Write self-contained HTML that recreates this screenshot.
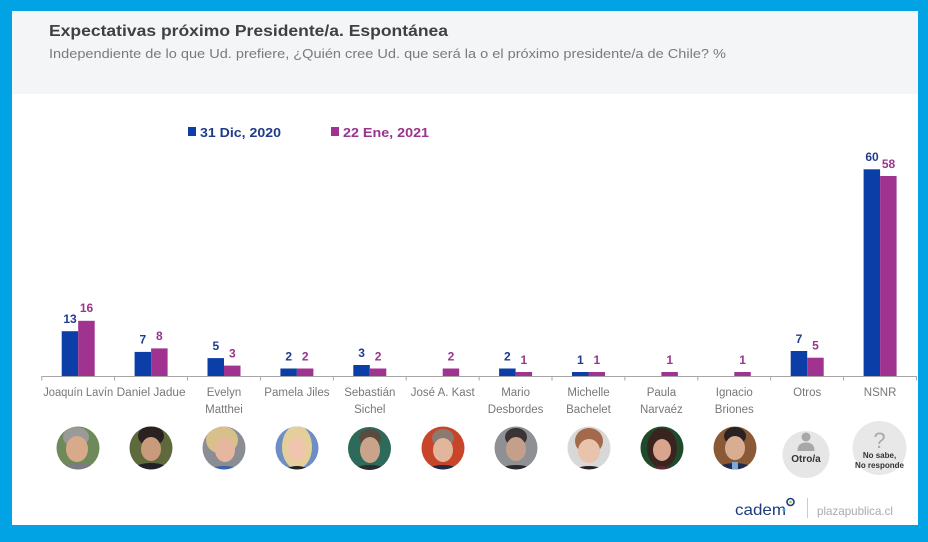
<!DOCTYPE html>
<html><head><meta charset="utf-8"><style>
html,body{margin:0;padding:0;background:#02a3e4;}
svg{display:block;}
text{font-family:"Liberation Sans",sans-serif;}
</style></head><body>
<svg width="928" height="542" viewBox="0 0 928 542" xmlns="http://www.w3.org/2000/svg">
<defs>
<clipPath id="c0"><circle cx="78" cy="448" r="21.5"/></clipPath>
<clipPath id="c1"><circle cx="151" cy="448" r="21.5"/></clipPath>
<clipPath id="c2"><circle cx="224" cy="448" r="21.5"/></clipPath>
<clipPath id="c3"><circle cx="297" cy="448" r="21.5"/></clipPath>
<clipPath id="c4"><circle cx="369.5" cy="448.5" r="21.5"/></clipPath>
<clipPath id="c5"><circle cx="443" cy="448" r="21.5"/></clipPath>
<clipPath id="c6"><circle cx="516" cy="448" r="21.5"/></clipPath>
<clipPath id="c7"><circle cx="589" cy="448" r="21.5"/></clipPath>
<clipPath id="c8"><circle cx="662" cy="448" r="21.5"/></clipPath>
<clipPath id="c9"><circle cx="735" cy="448" r="21.5"/></clipPath>
</defs>
<rect x="0" y="0" width="928" height="542" fill="#02a3e4"/>
<rect x="12" y="11" width="906" height="514" fill="#ffffff"/>
<rect x="12" y="11" width="906" height="83" fill="#f4f5f7"/>

<text x="49" y="36" font-size="16" font-weight="bold" fill="#404040" textLength="399" lengthAdjust="spacingAndGlyphs">Expectativas próximo Presidente/a. Espontánea</text>
<text x="49" y="58" font-size="13" fill="#7a7a7a" textLength="677" lengthAdjust="spacingAndGlyphs">Independiente de lo que Ud. prefiere, ¿Quién cree Ud. que será la o el próximo presidente/a de Chile? %</text>

<!-- legend -->
<rect x="188" y="127" width="8" height="9" fill="#0b3fa7"/>
<text x="200" y="137" font-size="13" font-weight="bold" fill="#1f3b8c" textLength="81" lengthAdjust="spacingAndGlyphs">31 Dic, 2020</text>
<rect x="331" y="127" width="8" height="9" fill="#a0338f"/>
<text x="343" y="137" font-size="13" font-weight="bold" fill="#98358c" textLength="86" lengthAdjust="spacingAndGlyphs">22 Ene, 2021</text>

<g>
<rect x="61.7" y="331.2" width="16.5" height="44.8" fill="#0b3fa7"/>
<rect x="78.2" y="320.8" width="16.5" height="55.2" fill="#a0338f"/>
<rect x="134.6" y="351.9" width="16.5" height="24.1" fill="#0b3fa7"/>
<rect x="151.1" y="348.4" width="16.5" height="27.6" fill="#a0338f"/>
<rect x="207.5" y="358.1" width="16.5" height="17.9" fill="#0b3fa7"/>
<rect x="224" y="365.6" width="16.5" height="10.4" fill="#a0338f"/>
<rect x="280.4" y="368.5" width="16.5" height="7.5" fill="#0b3fa7"/>
<rect x="296.9" y="368.5" width="16.5" height="7.5" fill="#a0338f"/>
<rect x="353.3" y="365" width="16.5" height="11" fill="#0b3fa7"/>
<rect x="369.8" y="368.5" width="16.5" height="7.5" fill="#a0338f"/>
<rect x="442.7" y="368.5" width="16.5" height="7.5" fill="#a0338f"/>
<rect x="499.1" y="368.5" width="16.5" height="7.5" fill="#0b3fa7"/>
<rect x="515.6" y="372" width="16.5" height="4" fill="#a0338f"/>
<rect x="572" y="372" width="16.5" height="4" fill="#0b3fa7"/>
<rect x="588.5" y="372" width="16.5" height="4" fill="#a0338f"/>
<rect x="661.4" y="372" width="16.5" height="4" fill="#a0338f"/>
<rect x="734.3" y="372" width="16.5" height="4" fill="#a0338f"/>
<rect x="790.7" y="351" width="16.5" height="25" fill="#0b3fa7"/>
<rect x="807.2" y="357.7" width="16.5" height="18.3" fill="#a0338f"/>
<rect x="863.6" y="169.3" width="16.5" height="206.7" fill="#0b3fa7"/>
<rect x="880.1" y="176" width="16.5" height="200" fill="#a0338f"/>
</g>

<g font-size="12" font-weight="bold" text-anchor="middle">
<text x="70" y="323" fill="#1f3b8c">13</text>
<text x="86.5" y="312" fill="#98358c">16</text>
<text x="142.9" y="343.5" fill="#1f3b8c">7</text>
<text x="159.4" y="340" fill="#98358c">8</text>
<text x="215.8" y="350" fill="#1f3b8c">5</text>
<text x="232.3" y="357.5" fill="#98358c">3</text>
<text x="288.7" y="360.5" fill="#1f3b8c">2</text>
<text x="305.2" y="360.5" fill="#98358c">2</text>
<text x="361.6" y="357" fill="#1f3b8c">3</text>
<text x="378.1" y="360.5" fill="#98358c">2</text>
<text x="451" y="360.5" fill="#98358c">2</text>
<text x="507.4" y="360.5" fill="#1f3b8c">2</text>
<text x="523.9" y="364" fill="#98358c">1</text>
<text x="580.3" y="364" fill="#1f3b8c">1</text>
<text x="596.8" y="364" fill="#98358c">1</text>
<text x="669.7" y="364" fill="#98358c">1</text>
<text x="742.6" y="364" fill="#98358c">1</text>
<text x="799" y="343" fill="#1f3b8c">7</text>
<text x="815.5" y="349.5" fill="#98358c">5</text>
<text x="872" y="161" fill="#1f3b8c">60</text>
<text x="888.5" y="168" fill="#98358c">58</text>
</g>

<g stroke="#a6a6a6" stroke-width="1">
<line x1="41.7" y1="376.5" x2="916.5" y2="376.5"/>
<line x1="41.7" y1="376" x2="41.7" y2="380.5"/>
<line x1="114.6" y1="376" x2="114.6" y2="380.5"/>
<line x1="187.5" y1="376" x2="187.5" y2="380.5"/>
<line x1="260.4" y1="376" x2="260.4" y2="380.5"/>
<line x1="333.3" y1="376" x2="333.3" y2="380.5"/>
<line x1="406.2" y1="376" x2="406.2" y2="380.5"/>
<line x1="479.1" y1="376" x2="479.1" y2="380.5"/>
<line x1="552" y1="376" x2="552" y2="380.5"/>
<line x1="624.9" y1="376" x2="624.9" y2="380.5"/>
<line x1="697.8" y1="376" x2="697.8" y2="380.5"/>
<line x1="770.7" y1="376" x2="770.7" y2="380.5"/>
<line x1="843.6" y1="376" x2="843.6" y2="380.5"/>
<line x1="916.5" y1="376" x2="916.5" y2="380.5"/>
</g>

<g font-size="11.5" fill="#777777" text-anchor="middle">
<text x="78.2" y="396" textLength="70" lengthAdjust="spacingAndGlyphs">Joaquín Lavín</text>
<text x="151.1" y="396" textLength="69" lengthAdjust="spacingAndGlyphs">Daniel Jadue</text>
<text x="224" y="396">Evelyn</text>
<text x="224" y="413">Matthei</text>
<text x="296.9" y="396">Pamela Jiles</text>
<text x="369.8" y="396">Sebastián</text>
<text x="369.8" y="413">Sichel</text>
<text x="442.7" y="396">José A. Kast</text>
<text x="515.6" y="396">Mario</text>
<text x="515.6" y="413">Desbordes</text>
<text x="588.5" y="396">Michelle</text>
<text x="588.5" y="413">Bachelet</text>
<text x="661.4" y="396">Paula</text>
<text x="661.4" y="413">Narvaéz</text>
<text x="734.3" y="396">Ignacio</text>
<text x="734.3" y="413">Briones</text>
<text x="807.2" y="396">Otros</text>
<text x="880.1" y="396">NSNR</text>
</g>

<g clip-path="url(#c0)">
<rect x="50" y="420" width="60" height="60" fill="#6f8a5a"/>
<ellipse cx="76" cy="437" rx="13" ry="10" fill="#9a9a98"/>
<ellipse cx="77" cy="449" rx="11" ry="13" fill="#d9a98c"/>
<ellipse cx="78" cy="472" rx="20" ry="9" fill="#7a7c80"/>
</g>
<g clip-path="url(#c1)">
<rect x="125" y="420" width="60" height="60" fill="#5e6a3c"/>
<ellipse cx="151" cy="436" rx="13" ry="10" fill="#2a2220"/>
<ellipse cx="151" cy="449" rx="10" ry="12" fill="#c99a7c"/>
<ellipse cx="151" cy="472" rx="20" ry="9" fill="#222226"/>
</g>
<g clip-path="url(#c2)">
<rect x="198" y="420" width="60" height="60" fill="#8a8d94"/>
<ellipse cx="222" cy="440" rx="16" ry="14" fill="#d8c08a"/>
<ellipse cx="225" cy="450" rx="10" ry="12" fill="#e6b79e"/>
<ellipse cx="224" cy="474" rx="20" ry="8" fill="#3b64a8"/>
</g>
<g clip-path="url(#c3)">
<rect x="271" y="420" width="60" height="60" fill="#6f8fc4"/>
<ellipse cx="297" cy="447" rx="15" ry="22" fill="#e4cf9a"/>
<ellipse cx="297" cy="449" rx="9" ry="12" fill="#efc6ad"/>
<ellipse cx="297" cy="474" rx="14" ry="8" fill="#222"/>
</g>
<g clip-path="url(#c4)">
<rect x="344" y="420" width="60" height="60" fill="#2e6a5a"/>
<ellipse cx="370" cy="438" rx="11" ry="9" fill="#5b4b3e"/>
<ellipse cx="370" cy="450" rx="10" ry="13" fill="#c9a48a"/>
<ellipse cx="370" cy="474" rx="20" ry="9" fill="#2a2d30"/>
</g>
<g clip-path="url(#c5)">
<rect x="417" y="420" width="60" height="60" fill="#c9452a"/>
<ellipse cx="443" cy="438" rx="11" ry="9" fill="#8a7a70"/>
<ellipse cx="443" cy="450" rx="10" ry="12" fill="#e1b69c"/>
<ellipse cx="443" cy="474" rx="20" ry="9" fill="#1f2a44"/>
</g>
<g clip-path="url(#c6)">
<rect x="490" y="420" width="60" height="60" fill="#8e9094"/>
<ellipse cx="516" cy="437" rx="11" ry="9" fill="#3a3436"/>
<ellipse cx="516" cy="449" rx="10" ry="12" fill="#c4a08a"/>
<ellipse cx="516" cy="474" rx="20" ry="9" fill="#2a2a2e"/>
</g>
<g clip-path="url(#c7)">
<rect x="563" y="420" width="60" height="60" fill="#d8d8d8"/>
<ellipse cx="589" cy="441" rx="14" ry="13" fill="#a26a4a"/>
<ellipse cx="589" cy="451" rx="11" ry="12" fill="#eac3ad"/>
<ellipse cx="589" cy="474" rx="18" ry="8" fill="#2a2020"/>
</g>
<g clip-path="url(#c8)">
<rect x="636" y="420" width="60" height="60" fill="#1f4a2c"/>
<ellipse cx="662" cy="448" rx="15" ry="20" fill="#3a2420"/>
<ellipse cx="662" cy="450" rx="9" ry="11" fill="#d9a58e"/>
<ellipse cx="662" cy="474" rx="18" ry="8" fill="#5a2a34"/>
</g>
<g clip-path="url(#c9)">
<rect x="709" y="420" width="60" height="60" fill="#8a5a36"/>
<ellipse cx="735" cy="436" rx="11" ry="9" fill="#2a2222"/>
<ellipse cx="735" cy="448" rx="10" ry="12" fill="#d8ad92"/>
<ellipse cx="735" cy="473" rx="21" ry="10" fill="#1f2c4c"/>
<rect x="732" y="462" width="6" height="12" fill="#7fa6d8"/>
</g>

<circle cx="806" cy="454.5" r="23.5" fill="#e6e6e6"/>
<circle cx="806" cy="437" r="4.5" fill="#a8a8a8"/>
<path d="M797.5 451 Q797.5 442.5 806 442.5 Q814.5 442.5 814.5 451 Z" fill="#a8a8a8"/>
<text x="806" y="462" font-size="10" font-weight="bold" fill="#333" text-anchor="middle">Otro/a</text>

<circle cx="879.5" cy="448" r="27" fill="#e8e8e8"/>
<text x="879.5" y="448" font-size="22" fill="#aaaaaa" text-anchor="middle">?</text>
<text x="879.5" y="458" font-size="8" font-weight="bold" fill="#333" text-anchor="middle">No sabe,</text>
<text x="879.5" y="468" font-size="8" font-weight="bold" fill="#333" text-anchor="middle">No responde</text>

<text x="735" y="515" font-size="16" fill="#1f3b7a" textLength="51" lengthAdjust="spacingAndGlyphs">cadem</text>
<circle cx="790.5" cy="502" r="3.5" fill="none" stroke="#1f3b7a" stroke-width="1.6"/>
<circle cx="790.5" cy="502" r="1.3" fill="#9ac43c"/>
<circle cx="784" cy="510" r="1.5" fill="#4aa0d8"/>
<line x1="807.5" y1="498" x2="807.5" y2="518" stroke="#cccccc" stroke-width="1"/>
<text x="817" y="515" font-size="12" fill="#aaaaaa" textLength="76" lengthAdjust="spacingAndGlyphs">plazapublica.cl</text>
</svg>
</body></html>
